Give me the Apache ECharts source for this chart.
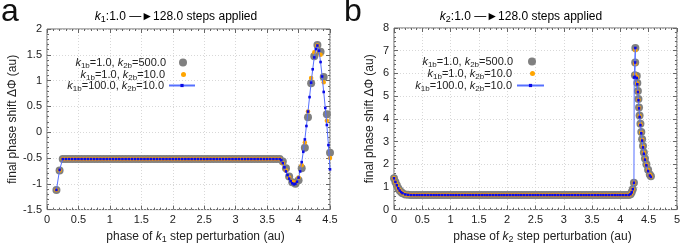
<!DOCTYPE html>
<html><head><meta charset="utf-8">
<script src="https://cdn.jsdelivr.net/npm/echarts@6/dist/echarts.min.js"></script>
<style>html,body{margin:0;padding:0;background:#fff}#c{width:683px;height:249px}</style>
</head><body><div id="c"></div>
<script>
// ---------- Panel a data ----------
const aX = [0.15,0.2,0.25,
0.3,0.35,0.4,0.45,0.5,0.55,0.6,0.65,0.7,0.75,
0.8,0.85,0.9,0.95,1.0,1.05,1.1,1.15,1.2,1.25,
1.3,1.35,1.4,1.45,1.5,1.55,1.6,1.65,1.7,1.75,
1.8,1.85,1.9,1.95,2.0,2.05,2.1,2.15,2.2,2.25,
2.3,2.35,2.4,2.45,2.5,2.55,2.6,2.65,2.7,2.75,
2.8,2.85,2.9,2.95,3.0,3.05,3.1,3.15,3.2,3.25,
3.3,3.35,3.4,3.45,3.5,3.55,3.6,3.65,3.7,3.75,
3.8,3.85,3.9,3.95,4.0,4.05,4.1,4.15,4.2,4.25,4.3,4.35,4.4,4.45,4.5];
const aGrey = [-1.12,-0.74,
-0.52,-0.52,-0.52,-0.52,-0.52,-0.52,-0.52,-0.52,-0.52,-0.52,
-0.52,-0.52,-0.52,-0.52,-0.52,-0.52,-0.52,-0.52,-0.52,-0.52,
-0.52,-0.52,-0.52,-0.52,-0.52,-0.52,-0.52,-0.52,-0.52,-0.52,
-0.52,-0.52,-0.52,-0.52,-0.52,-0.52,-0.52,-0.52,-0.52,-0.52,
-0.52,-0.52,-0.52,-0.52,-0.52,-0.52,-0.52,-0.52,-0.52,-0.52,
-0.52,-0.52,-0.52,-0.52,-0.52,-0.52,-0.52,-0.52,-0.52,-0.52,
-0.52,-0.52,-0.52,-0.52,-0.52,-0.52,-0.52,-0.52,-0.52,-0.52,
-0.57,-0.70,-0.86,-0.97,-1.00,-0.93,-0.70,-0.30,0.29,0.95,1.47,1.69,1.56,1.07,0.35,-0.40];
const aOrange = [-1.12,-0.74,
-0.52,-0.52,-0.52,-0.52,-0.52,-0.52,-0.52,-0.52,-0.52,-0.52,
-0.52,-0.52,-0.52,-0.52,-0.52,-0.52,-0.52,-0.52,-0.52,-0.52,
-0.52,-0.52,-0.52,-0.52,-0.52,-0.52,-0.52,-0.52,-0.52,-0.52,
-0.52,-0.52,-0.52,-0.52,-0.52,-0.52,-0.52,-0.52,-0.52,-0.52,
-0.52,-0.52,-0.52,-0.52,-0.52,-0.52,-0.52,-0.52,-0.52,-0.52,
-0.52,-0.52,-0.52,-0.52,-0.52,-0.52,-0.52,-0.52,-0.52,-0.52,
-0.52,-0.52,-0.52,-0.52,-0.52,-0.52,-0.52,-0.52,-0.52,-0.52,
-0.60,-0.74,-0.88,-0.96,-0.97,-0.88,-0.64,-0.20,0.40,1.05,1.55,1.68,1.50,0.97,0.22,-0.50];
const aBlueX = [0.15,0.2,0.25,
0.3,0.35,0.4,0.45,0.5,0.55,0.6,0.65,0.7,0.75,
0.8,0.85,0.9,0.95,1.0,1.05,1.1,1.15,1.2,1.25,
1.3,1.35,1.4,1.45,1.5,1.55,1.6,1.65,1.7,1.75,
1.8,1.85,1.9,1.95,2.0,2.05,2.1,2.15,2.2,2.25,
2.3,2.35,2.4,2.45,2.5,2.55,2.6,2.65,2.7,2.75,
2.8,2.85,2.9,2.95,3.0,3.05,3.1,3.15,3.2,3.25,
3.3,3.35,3.4,3.45,3.5,3.55,3.6,3.65,3.7,
3.725,3.75,3.775,3.8,3.825,3.85,3.875,3.9,3.925,3.95,3.975,4.0,4.025,4.05,4.075,4.1,
4.125,4.15,4.175,4.2,4.225,4.25,4.275,4.3,4.325,4.35,4.375,4.4,4.425,4.45,4.475,4.5];
const aBlue = [-1.12,-0.73,
-0.52,-0.52,-0.52,-0.52,-0.52,-0.52,-0.52,-0.52,-0.52,-0.52,
-0.52,-0.52,-0.52,-0.52,-0.52,-0.52,-0.52,-0.52,-0.52,-0.52,
-0.52,-0.52,-0.52,-0.52,-0.52,-0.52,-0.52,-0.52,-0.52,-0.52,
-0.52,-0.52,-0.52,-0.52,-0.52,-0.52,-0.52,-0.52,-0.52,-0.52,
-0.52,-0.52,-0.52,-0.52,-0.52,-0.52,-0.52,-0.52,-0.52,-0.52,
-0.52,-0.52,-0.52,-0.52,-0.52,-0.52,-0.52,-0.52,-0.52,-0.52,
-0.52,-0.52,-0.52,-0.52,-0.52,-0.52,-0.52,-0.52,-0.52,-0.52,
-0.54,-0.60,-0.68,-0.76,-0.83,-0.90,-0.95,-0.99,-1.01,-1.00,-0.96,-0.88,-0.76,-0.58,-0.38,-0.14,
0.12,0.40,0.68,0.96,1.22,1.45,1.61,1.68,1.58,1.36,1.08,0.78,0.47,0.14,-0.25,-0.72];

// ---------- Panel b data ----------
const bX = [0,0.025,0.05,0.075,0.1,0.125,0.15,0.2,0.25,
0.3,0.35,0.4,0.45,0.5,0.55,0.6,0.65,0.7,0.75,
0.8,0.85,0.9,0.95,1.0,1.05,1.1,1.15,1.2,1.25,
1.3,1.35,1.4,1.45,1.5,1.55,1.6,1.65,1.7,1.75,
1.8,1.85,1.9,1.95,2.0,2.05,2.1,2.15,2.2,2.25,
2.3,2.35,2.4,2.45,2.5,2.55,2.6,2.65,2.7,2.75,
2.8,2.85,2.9,2.95,3.0,3.05,3.1,3.15,3.2,3.25,
3.3,3.35,3.4,3.45,3.5,3.55,3.6,3.65,3.7,3.75,
3.8,3.85,3.9,3.95,4.0,4.05,4.1,4.15,
4.18,4.2,4.22,4.24,
4.245,
4.265,4.262,4.258,4.29,4.3,4.31,4.32,4.33,4.34,4.355,4.37,4.385,4.4,4.415,4.435,4.46,4.49,4.52,4.54];
const bGrey = [1.38,1.22,1.07,0.94,0.84,0.77,0.72,0.67,0.65,
0.64,0.64,0.64,0.64,0.64,0.64,0.64,0.64,0.64,0.64,
0.64,0.64,0.64,0.64,0.64,0.64,0.64,0.64,0.64,0.64,
0.64,0.64,0.64,0.64,0.64,0.64,0.64,0.64,0.64,0.64,
0.64,0.64,0.64,0.64,0.64,0.64,0.64,0.64,0.64,0.64,
0.64,0.64,0.64,0.64,0.64,0.64,0.64,0.64,0.64,0.64,
0.64,0.64,0.64,0.64,0.64,0.64,0.64,0.64,0.64,0.64,
0.64,0.64,0.64,0.64,0.64,0.64,0.64,0.64,0.64,0.64,
0.64,0.64,0.64,0.64,0.64,0.64,0.64,0.64,
0.68,0.76,0.90,1.18,
null,
7.12,6.48,5.92,5.88,5.58,5.22,4.87,4.50,4.14,3.78,3.42,3.10,2.80,2.52,2.25,2.00,1.76,1.55,1.47];
const bOrange = [1.38,1.22,1.07,0.94,0.84,0.77,0.72,0.67,0.65,
0.64,0.64,0.64,0.64,0.64,0.64,0.64,0.64,0.64,0.64,
0.64,0.64,0.64,0.64,0.64,0.64,0.64,0.64,0.64,0.64,
0.64,0.64,0.64,0.64,0.64,0.64,0.64,0.64,0.64,0.64,
0.64,0.64,0.64,0.64,0.64,0.64,0.64,0.64,0.64,0.64,
0.64,0.64,0.64,0.64,0.64,0.64,0.64,0.64,0.64,0.64,
0.64,0.64,0.64,0.64,0.64,0.64,0.64,0.64,0.64,0.64,
0.64,0.64,0.64,0.64,0.64,0.64,0.64,0.64,0.64,0.64,
0.64,0.64,0.64,0.64,0.64,0.64,0.64,0.64,
0.68,0.76,0.90,1.18,
null,
7.02,6.42,5.95,5.84,5.55,5.19,4.84,4.48,4.12,3.76,3.40,3.08,2.78,2.50,2.23,1.98,1.74,1.54,1.46];
const bBlue = [1.38,1.22,1.07,0.94,0.84,0.77,0.72,0.67,0.65,
0.64,0.64,0.64,0.64,0.64,0.64,0.64,0.64,0.64,0.64,
0.64,0.64,0.64,0.64,0.64,0.64,0.64,0.64,0.64,0.64,
0.64,0.64,0.64,0.64,0.64,0.64,0.64,0.64,0.64,0.64,
0.64,0.64,0.64,0.64,0.64,0.64,0.64,0.64,0.64,0.64,
0.64,0.64,0.64,0.64,0.64,0.64,0.64,0.64,0.64,0.64,
0.64,0.64,0.64,0.64,0.64,0.64,0.64,0.64,0.64,0.64,
0.64,0.64,0.64,0.64,0.64,0.64,0.64,0.64,0.64,0.64,
0.64,0.64,0.64,0.64,0.64,0.64,0.64,0.64,
0.68,0.76,0.90,1.18,
5.82,
7.12,6.48,5.85,5.80,5.52,5.18,4.82,4.46,4.08,3.72,3.36,3.04,2.74,2.46,2.20,1.95,1.70,1.50,1.44];

// ---------- axis ticks ----------
const aXTicks = {min:0, max:4.5, interval:0.5};
const aYTicks = {min:-1.5, max:2, interval:0.5};
const bXTicks = {min:0, max:5, interval:0.5};
const bYTicks = {min:0, max:8, interval:1};

const legendNames = {
  g: '{i|k}{s|1b}{n|=1.0, }{i|k}{s|2b}{n|=500.0}',
  o: '{i|k}{s|1b}{n|=1.0, }{i|k}{s|2b}{n|=10.0}',
  b: '{i|k}{s|1b}{n|=100.0, }{i|k}{s|2b}{n|=10.0}'
};

const F = '"Liberation Sans", Arial, sans-serif';
const TXT = '#222';
function richFor(gap) {
  return {
    n:{fontSize:11,fontFamily:F,color:TXT,lineHeight:14},
    i:{fontSize:11,fontFamily:F,color:TXT,fontStyle:'italic',lineHeight:14},
    s:{fontSize:8,fontFamily:F,color:TXT,lineHeight:8,verticalAlign:'bottom'},
    g:{width:gap,fontSize:11,lineHeight:14}
  };
}
const richL = {
  n:{fontSize:12,fontFamily:F,color:TXT,lineHeight:15},
  i:{fontSize:12,fontFamily:F,color:TXT,fontStyle:'italic',lineHeight:15},
  s:{fontSize:9,fontFamily:F,color:TXT,lineHeight:9,verticalAlign:'bottom'}
};

const zip = (xs, ys) => xs.map((x,i)=>[x, ys[i]]).filter(p=>p[1]!==null);

const grids = [
  {left:47, right:353, top:29, bottom:36, show:true, borderColor:'#666', borderWidth:1, backgroundColor:'transparent'},
  {left:394, right:5, top:28, bottom:37, show:true, borderColor:'#666', borderWidth:1, backgroundColor:'transparent'}
];

function mkAxis(t, gi, pos, main, name, nameGap, isY) {
  return Object.assign({
    type:'value', gridIndex:gi, position:pos,
    axisLine:{show:false, onZero:false},
    axisTick:{show:true, inside:true, length:4, lineStyle:{color:'#666'}},
    minorTick:{show:true, splitNumber:5, length:2, lineStyle:{color:'#666'}},
    axisLabel:{show:main, color:TXT, fontSize:11, fontFamily:F, margin:5},
    splitLine:{show:main, lineStyle:{color:'#d8d8d8', type:[1,2]}},
    minorSplitLine:{show:false},
    name: main ? name : '',
    nameLocation:'middle', nameGap:nameGap,
    nameTextStyle:{rich:richL, fontSize:12, fontFamily:F, color:TXT, padding: isY?[0,0,0,0]:[0,0,0,14]}
  }, t);
}

const xAxes = [
  mkAxis(aXTicks,0,'bottom',true,'{n|phase of }{i|k}{s|1}{n| step perturbation (au)}',14,false),
  mkAxis(aXTicks,0,'top',false,'',0,false),
  mkAxis(bXTicks,1,'bottom',true,'{n|phase of }{i|k}{s|2}{n| step perturbation (au)}',15,false),
  mkAxis(bXTicks,1,'top',false,'',0,false)
];
const yAxes = [
  mkAxis(aYTicks,0,'left',true,'{n|final phase shift ΔΦ (au)}',24,true),
  mkAxis(aYTicks,0,'right',false,'',0,true),
  mkAxis(bYTicks,1,'left',true,'{n|final phase shift ΔΦ (au)}',17,true),
  mkAxis(bYTicks,1,'right',false,'',0,true)
];

function seriesFor(xi, yi, X, G, O, BX, B) {
  return [
    {type:'scatter', name:'g', xAxisIndex:xi, yAxisIndex:yi, data:zip(X,G), symbolSize:8, itemStyle:{color:'#808080', opacity:1}, clip:false, silent:true},
    {type:'scatter', name:'o', xAxisIndex:xi, yAxisIndex:yi, data:zip(X,O), symbolSize:4.5, itemStyle:{color:'#ffa500', opacity:1}, clip:false, silent:true},
    {type:'line', name:'b', xAxisIndex:xi, yAxisIndex:yi, data:zip(BX,B), symbol:'rect', symbolSize:2.6, showSymbol:true, showAllSymbol:true,
     itemStyle:{color:'#0a0ae6'}, lineStyle:{color:'#5670ff', width:1}, clip:false, silent:true, emphasis:{disabled:true}}
  ];
}

function legendFor(name, right, top, w, h, gap) {
  return {data:[name], right:right, top:top, orient:'horizontal', align:'right', itemWidth:w, itemHeight:h, itemGap:0, padding:0,
    selectedMode:false, textStyle:{rich:richFor(gap), fontSize:11, fontFamily:F, color:TXT},
    formatter:(n)=> gap > 0 ? legendNames[n] + '{g| }' : legendNames[n]};
}

const chart = echarts.init(document.getElementById('c'), null, {renderer:'canvas'});
chart.setOption({
  animation:false,
  backgroundColor:'#fff',
  grid:grids,
  xAxis:xAxes,
  yAxis:yAxes,
  legend:[
    legendFor('g',496,57,8,8,8), legendFor('o',497,69,5,5,11), legendFor('b',487,80,26,4,0),
    legendFor('g',147,56,8,8,10), legendFor('o',148,68,5,5,13), legendFor('b',138,80,27,4,0)
  ],
  series:[].concat(
    seriesFor(0,0,aX,aGrey,aOrange,aBlueX,aBlue),
    seriesFor(2,2,bX,bGrey,bOrange,bX,bBlue)
  ),
  graphic:[
    {type:'text', left:1, top:-4, style:{text:'a', fontSize:32, fontFamily:F, fill:'#111'}},
    {type:'text', left:344, top:-4, style:{text:'b', fontSize:32, fontFamily:F, fill:'#111'}},
    {type:'text', x:176, y:17, style:{text:'{i|k}{s|1}{n|:1.0 —►128.0 steps applied}', rich:richL, align:'center', verticalAlign:'middle'}},
    {type:'text', x:521, y:17, style:{text:'{i|k}{s|2}{n|:1.0 —►128.0 steps applied}', rich:richL, align:'center', verticalAlign:'middle'}}
  ]
});
</script>
</body></html>
